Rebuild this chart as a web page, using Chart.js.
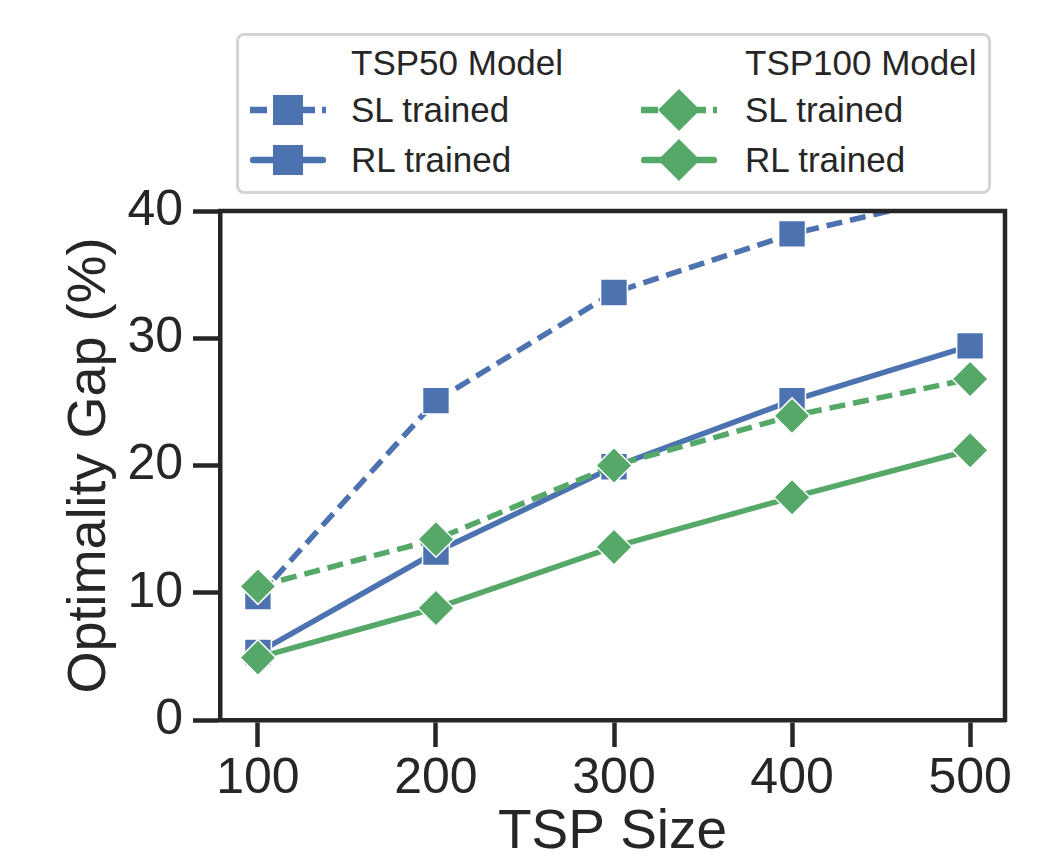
<!DOCTYPE html>
<html>
<head>
<meta charset="utf-8">
<script src="https://cdn.jsdelivr.net/npm/chart.js@4.4.0/dist/chart.umd.min.js"></script>
<style>
  body { margin: 0; background: #fff; }
  #wrap { position: relative; width: 1058px; height: 860px; }
  #chart { position: absolute; left: 0; top: 0; }
  #legendBox { position: absolute; left: 236px; top: 33px; width: 749px; height: 155px;
    border: 3px solid #d4d4d4; border-radius: 8px; background: #fff; }
  .lg { position: absolute; font-family: "Liberation Sans", Arial, sans-serif; font-size: 35px;
    color: #262626; line-height: 40px; white-space: nowrap; }
  .lgsvg { position: absolute; }
</style>
</head>
<body>
<div id="wrap">
  <canvas id="chart" width="1058" height="860"></canvas>
  <div id="legendBox"></div>
</div>
<script>
// data
const sizes = [100, 200, 300, 400, 500];
const yTicks = [0, 10, 20, 30, 40];
const tsp50SL = [9.7, 25.1, 33.6, 38.2, 41.5];
const tsp50RL = [5.3, 13.2, 19.9, 25.1, 29.4];
const tsp100SL = [10.5, 14.2, 20.0, 23.9, 26.8];
const tsp100RL = [4.9, 8.8, 13.6, 17.5, 21.2];

const BLUE = "#4c72b0";
const GREEN = "#55a868";
const INK = "#262626";
const FONT = "'Liberation Sans', Arial, sans-serif";

function series(label, values, color, dashed, shape, order) {
  return {
    label: label,
    data: sizes.map((x, i) => ({ x: x, y: values[i] })),
    borderColor: color,
    backgroundColor: color,
    borderWidth: 5.5,
    borderDash: dashed ? [16, 8] : [],
    pointStyle: shape,
    pointRadius: shape === "rect" ? 19 : 18,
    pointBackgroundColor: color,
    pointBorderColor: "#fff",
    pointBorderWidth: 1.5,
    tension: 0,
    clip: 0,
    order: order
  };
}

// top + right spines
const frame = {
  id: "frame",
  afterDatasetsDraw(chart) {
    const { ctx, chartArea: a } = chart;
    ctx.save();
    ctx.strokeStyle = INK;
    ctx.lineWidth = 4.5;
    ctx.beginPath();
    ctx.moveTo(a.left - 2, a.top);
    ctx.lineTo(a.right, a.top);
    ctx.lineTo(a.right, a.bottom + 2);
    ctx.stroke();
    ctx.restore();
  }
};

const axisGrid = { drawOnChartArea: false, drawTicks: true, tickLength: 27, tickWidth: 4.5, tickColor: INK };
const axisBorder = { display: true, width: 4.5, color: INK };

new Chart(document.getElementById("chart"), {
  type: "line",
  data: {
    datasets: [
      series("SL trained", tsp50SL, BLUE, true, "rect", 3),
      series("RL trained", tsp50RL, BLUE, false, "rect", 2),
      series("SL trained", tsp100SL, GREEN, true, "rectRot", 1),
      series("RL trained", tsp100RL, GREEN, false, "rectRot", 0)
    ]
  },
  options: {
    responsive: false,
    animation: false,
    layout: { padding: { left: 50, right: 53, top: 211, bottom: 0 } },
    plugins: { legend: { display: false }, tooltip: { enabled: false } },
    scales: {
      x: {
        type: "linear",
        min: 78.7,
        max: 519.6,
        afterBuildTicks: s => { s.ticks = sizes.map(v => ({ value: v })); },
        afterFit: s => { s.height = 140; },
        ticks: { font: { family: FONT, size: 50 }, color: INK, padding: 2, maxRotation: 0 },
        grid: axisGrid,
        border: axisBorder,
        title: { display: true, text: "TSP Size", color: INK,
          font: { family: FONT, size: 55, lineHeight: 1 }, padding: { top: 0, bottom: 0 } }
      },
      y: {
        min: 0,
        max: 40,
        afterBuildTicks: s => { s.ticks = yTicks.map(v => ({ value: v })); },
        afterFit: s => { s.width = 170; },
        ticks: { font: { family: FONT, size: 50 }, color: INK, padding: 10 },
        grid: axisGrid,
        border: axisBorder,
        title: { display: true, text: "Optimality Gap (%)", color: INK,
          font: { family: FONT, size: 54, lineHeight: 1 }, padding: { top: 13, bottom: 0 } }
      }
    }
  },
  plugins: [frame]
});

// legend: two columns, each with a header row
const legendCols = [
  { title: "TSP50 Model", color: BLUE, shape: "rect", handleX: 250, textX: 351 },
  { title: "TSP100 Model", color: GREEN, shape: "rectRot", handleX: 641, textX: 745 }
];
const legendRows = [{ label: "SL trained", dashed: true }, { label: "RL trained", dashed: false }];
const rowY = [63, 110, 160];
const wrap = document.getElementById("wrap");

function addText(txt, x, y) {
  const el = document.createElement("div");
  el.className = "lg";
  el.textContent = txt;
  el.style.left = x + "px";
  el.style.top = (y - 20) + "px";
  wrap.appendChild(el);
}

function addHandle(col, dashed, y) {
  const ns = "http://www.w3.org/2000/svg";
  const svg = document.createElementNS(ns, "svg");
  svg.setAttribute("width", 76);
  svg.setAttribute("height", 48);
  svg.setAttribute("class", "lgsvg");
  svg.style.left = col.handleX + "px";
  svg.style.top = (y - 24) + "px";
  const line = document.createElementNS(ns, "line");
  line.setAttribute("x1", dashed ? 0 : 3); line.setAttribute("x2", dashed ? 76 : 73);
  line.setAttribute("y1", 24); line.setAttribute("y2", 24);
  line.setAttribute("stroke", col.color);
  line.setAttribute("stroke-width", 6.5);
  if (dashed) line.setAttribute("stroke-dasharray", "17 7");
  else line.setAttribute("stroke-linecap", "round");
  svg.appendChild(line);
  let mark;
  if (col.shape === "rect") {
    mark = document.createElementNS(ns, "rect");
    mark.setAttribute("x", 23); mark.setAttribute("y", 9);
    mark.setAttribute("width", 30); mark.setAttribute("height", 30);
  } else {
    mark = document.createElementNS(ns, "polygon");
    mark.setAttribute("points", "38,3 59,24 38,45 17,24");
  }
  mark.setAttribute("fill", col.color);
  svg.appendChild(mark);
  wrap.appendChild(svg);
}

legendCols.forEach(col => {
  addText(col.title, col.textX, rowY[0]);
  legendRows.forEach((r, i) => {
    addHandle(col, r.dashed, rowY[i + 1]);
    addText(r.label, col.textX, rowY[i + 1]);
  });
});
</script>
</body>
</html>
